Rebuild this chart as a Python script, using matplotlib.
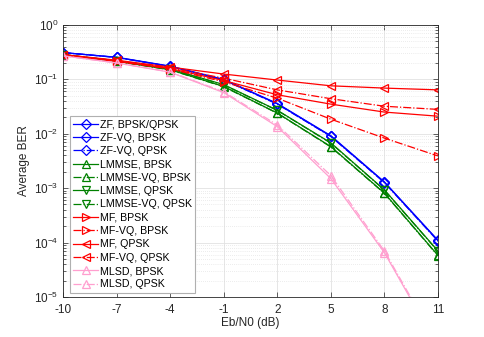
import numpy as np
import matplotlib
matplotlib.use("Agg")
import matplotlib.pyplot as plt
from matplotlib.ticker import LogLocator, NullFormatter

plt.rcParams['font.family'] = ['Liberation Sans', 'DejaVu Sans']

snr = [-10, -7, -4, -1, 2, 5, 8, 11]

zf = [0.31, 0.255, 0.175, 0.100, 0.036, 0.0092, 0.00130, 1.10e-4]
zf_vq_bpsk = [0.31, 0.253, 0.173, 0.098, 0.0355, 0.0090, 0.00128, 1.08e-4]
zf_vq_qpsk = [0.31, 0.252, 0.172, 0.097, 0.035, 0.0089, 0.00126, 1.06e-4]
lmmse_bpsk = [0.28, 0.215, 0.150, 0.074, 0.024, 0.0058, 0.00081, 5.8e-5]
lmmse_vq_bpsk = [0.28, 0.214, 0.149, 0.073, 0.0238, 0.0057, 0.00080, 5.7e-5]
lmmse_qpsk = [0.285, 0.22, 0.155, 0.080, 0.027, 0.0068, 0.00093, 7.0e-5]
lmmse_vq_qpsk = [0.285, 0.219, 0.154, 0.079, 0.0268, 0.0067, 0.00092, 6.9e-5]
mf_bpsk = [0.28, 0.215, 0.158, 0.095, 0.052, 0.035, 0.025, 0.021]
mf_vq_bpsk = [0.28, 0.213, 0.155, 0.090, 0.045, 0.0185, 0.0083, 0.0039]
mf_qpsk = [0.285, 0.225, 0.168, 0.125, 0.097, 0.076, 0.069, 0.064]
mf_vq_qpsk = [0.283, 0.22, 0.162, 0.105, 0.064, 0.044, 0.032, 0.028]
mlsd_bpsk = [0.27, 0.20, 0.135, 0.057, 0.0135, 0.0015, 6.5e-5, 1.2e-6]
mlsd_qpsk = [0.27, 0.20, 0.137, 0.059, 0.0145, 0.0017, 7.0e-5, 1.3e-6]

blue = '#0000ff'
green = '#008000'
red = '#ff0000'
pink = '#ff9fcf'

series = [
    ("ZF, BPSK/QPSK", zf, blue, '-', 'D'),
    ("ZF-VQ, BPSK", zf_vq_bpsk, blue, '-', 'D'),
    ("ZF-VQ, QPSK", zf_vq_qpsk, blue, '-.', 'D'),
    ("LMMSE, BPSK", lmmse_bpsk, green, '-', '^'),
    ("LMMSE-VQ, BPSK", lmmse_vq_bpsk, green, '-.', '^'),
    ("LMMSE, QPSK", lmmse_qpsk, green, '-', 'v'),
    ("LMMSE-VQ, QPSK", lmmse_vq_qpsk, green, '-.', 'v'),
    ("MF, BPSK", mf_bpsk, red, '-', '>'),
    ("MF-VQ, BPSK", mf_vq_bpsk, red, '-.', '>'),
    ("MF, QPSK", mf_qpsk, red, '-', '<'),
    ("MF-VQ, QPSK", mf_vq_qpsk, red, '-.', '<'),
    ("MLSD, BPSK", mlsd_bpsk, pink, '-', '^'),
    ("MLSD, QPSK", mlsd_qpsk, pink, '-.', '^'),
]

fig = plt.figure(figsize=(4.85, 3.37), dpi=100)
ax = fig.add_axes([0.130, 0.119, 0.773, 0.807])

for label, vals, col, ls, mk in series:
    ms = 4.6 if mk == 'D' else 5.6
    ax.semilogy(snr, vals, color=col, linestyle=ls, marker=mk, markersize=ms,
                markerfacecolor='none', markeredgecolor=col, linewidth=0.9,
                markeredgewidth=0.9, label=label)

ax.set_xlim(-10, 11)
ax.set_ylim(1e-5, 1e0)
ax.set_xticks(snr)
ax.set_xticklabels([str(s) for s in snr])
ax.yaxis.set_major_locator(LogLocator(base=10, numticks=10))
ax.yaxis.set_minor_locator(LogLocator(base=10, subs=np.arange(2, 10), numticks=100))
ax.yaxis.set_minor_formatter(NullFormatter())

ax.grid(True, which='major', color='#e2e2e2', linestyle='-', linewidth=0.6)
ax.grid(True, which='minor', axis='y', color='#dadada', linestyle=(0, (1, 2)), linewidth=0.5)
ax.set_axisbelow(True)

ax.tick_params(which='both', direction='in', top=True, right=True,
               labelsize=8.5, colors='#262626', width=0.5)
ax.tick_params(which='major', length=3.5)
ax.tick_params(axis='x', which='major', pad=5)
ax.tick_params(which='minor', length=2)
for sp in ax.spines.values():
    sp.set_color('#262626')
    sp.set_linewidth(0.6)

ax.set_xlabel("Eb/N0 (dB)", fontsize=8.5, color='#262626', labelpad=1)
ax.set_ylabel("Average BER", fontsize=8.5, color='#262626', labelpad=3)

leg = ax.legend(loc='lower left', bbox_to_anchor=(0.019, 0.016), fontsize=7.7,
                handlelength=2.3, labelspacing=0.31, handletextpad=0.2,
                borderpad=0.3, borderaxespad=0.0, fancybox=False, framealpha=1,
                edgecolor='#b0b0b0')
leg.get_frame().set_linewidth(0.8)

fig.savefig("out.png", dpi=100)
